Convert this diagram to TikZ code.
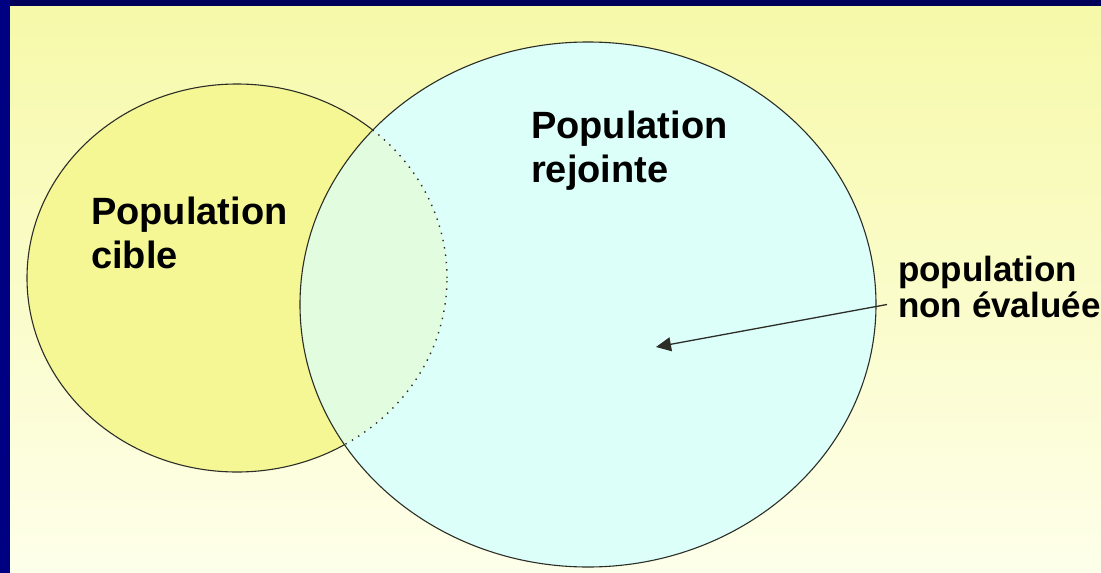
\documentclass[tikz,border=0pt]{standalone}
\usepackage{fontspec}
\setmainfont{Liberation Sans}
\usetikzlibrary{arrows.meta}
\definecolor{bgtop}{RGB}{246,249,168}
\definecolor{bgbot}{RGB}{254,255,234}
\definecolor{navytop}{RGB}{0,0,90}
\definecolor{navyleft}{RGB}{0,0,130}
\definecolor{cibleyellow}{RGB}{244,247,148}
\definecolor{rejcyan}{RGB}{220,255,250}
\definecolor{outline}{RGB}{45,45,40}
\tikzset{
  label/.style={font=\bfseries\fontsize{38}{44}\selectfont, inner sep=0pt, align=left, text=black},
  small label/.style={font=\bfseries\fontsize{35}{36}\selectfont, inner sep=0pt, align=left, text=black},
  edge/.style={draw=outline, line width=1.1pt},
}
\begin{document}
\begin{tikzpicture}[x=1pt,y=-1pt]
\useasboundingbox (0,0) rectangle (1101,573);
% background
\shade[top color=bgtop, bottom color=bgbot] (0,0) rectangle (1101,573);
\fill[navytop] (0,0) rectangle (1101,6);
\fill[navyleft] (0,0) rectangle (10,573);
% left ellipse
\fill[cibleyellow] (237,278) ellipse [x radius=210pt, y radius=194pt];
\draw[edge] (237,278) ellipse [x radius=210pt, y radius=194pt];
% right ellipse
\fill[rejcyan] (588,304.5) ellipse [x radius=288pt, y radius=262.5pt];
\begin{scope}
  \clip (588,304.5) ellipse [x radius=288pt, y radius=262.5pt];
  \fill[cibleyellow, opacity=0.25] (237,278) ellipse [x radius=210pt, y radius=194pt];
  \draw[outline, line width=1.4pt, dash pattern=on 1.4pt off 6pt] (237,278) ellipse [x radius=210pt, y radius=194pt];
\end{scope}
\draw[edge] (588,304.5) ellipse [x radius=288pt, y radius=262.5pt];
% labels
\node[label, anchor=north west] (cible) at (91,196.5) {Population\\cible};
\node[label, anchor=north west] (rejointe) at (531,110.5) {Population\\rejointe};
\node[small label, anchor=north west] (nonev) at (898,256) {population\\non évaluée};
\coordinate (arrstart) at (887,304.5);
\coordinate (arrend) at (656,347);
\draw[outline, line width=1.3pt, -{Triangle[length=15pt, width=14pt]}] (arrstart) -- (arrend);
\end{tikzpicture}
\end{document}
